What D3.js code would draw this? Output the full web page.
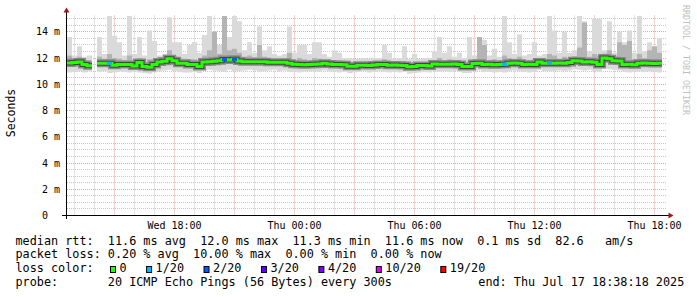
<!DOCTYPE html>
<html><head><meta charset="utf-8">
<script src="https://cdn.jsdelivr.net/npm/d3@7"></script>
<style>
body{margin:0;background:#fff}
svg{display:block}
text{font-family:"DejaVu Sans Mono",monospace}
</style></head><body>
<svg id="c" width="697" height="297"></svg>
<script>
// ---------- data ----------
const startTime = Date.UTC(2025, 6, 16, 12, 38, 18);
const endTime   = Date.UTC(2025, 6, 17, 18, 38, 18);
const stepSeconds = 900;

const median = [
 11.63,11.65,11.7,11.5,11.42,null,11.6,11.6,11.6,11.45,
 11.5,11.5,11.5,11.4,11.65,11.35,11.3,11.5,11.7,11.75,
 11.95,11.8,11.6,11.6,11.5,11.5,11.35,11.7,11.72,11.75,
 11.8,11.88,11.85,11.9,11.78,11.72,11.72,11.72,11.72,11.72,
 11.68,11.68,11.68,11.68,11.6,11.53,11.5,11.48,11.5,11.52,
 11.55,11.6,11.55,11.5,11.5,11.48,11.37,11.38,11.45,11.45,
 11.43,11.47,11.5,11.5,11.45,11.47,11.45,11.43,11.33,11.35,
 11.43,11.43,11.4,11.55,11.52,11.52,11.52,11.55,11.5,11.36,
 11.36,11.58,11.6,11.5,11.52,11.48,11.5,11.53,11.6,11.62,
 11.6,11.5,11.52,11.5,11.7,11.6,11.62,11.6,11.62,11.6,
 11.65,11.8,11.78,11.7,11.72,11.68,11.5,12.0,11.95,11.8,
 11.78,11.5,11.52,11.48,11.6,11.62,11.6,11.58,11.6,null];

const lossCount = [
 0,0,0,0,0,null,0,0,1,0,
 0,0,0,0,0,0,0,0,0,0,
 0,0,0,0,0,0,0,0,0,0,
 0,2,0,2,0,0,0,0,0,0,
 0,0,0,0,0,0,0,0,0,0,
 0,0,0,0,0,0,0,0,0,0,
 0,0,0,0,0,0,0,0,0,0,
 0,0,0,0,0,0,0,0,0,0,
 0,0,0,0,0,0,0,1,0,0,
 0,0,0,0,0,0,1,0,0,0,
 0,0,0,0,0,0,0,0,0,0,
 0,0,0,0,0,0,0,0,0,null];

const pingMax = [
 13.6,12.2,12.9,12.1,12.2,null,13.6,12.3,15.2,13.7,
 13.2,12.2,15.2,12.3,13.6,12.2,14.1,13.3,12.2,12.3,
 15.1,13.2,13.2,12.3,13.0,13.2,12.4,13.75,15.2,14.0,
 13.0,15.2,13.6,15.2,14.8,12.6,13.2,12.4,14.4,12.6,
 12.9,12.3,12.2,12.3,14.4,12.4,13.0,13.0,12.3,13.2,
 13.2,12.3,12.1,12.6,12.4,12.0,12.0,11.95,11.95,12.0,
 11.95,12.0,12.0,13.0,12.4,11.95,12.0,12.9,11.9,12.3,
 11.95,12.0,12.0,12.5,13.6,12.4,12.9,12.1,12.4,12.0,
 13.6,12.2,13.6,13.4,12.2,12.7,12.1,15.2,13.2,12.3,
 13.8,12.2,12.3,13.2,12.2,12.3,15.2,14.1,12.4,14.0,
 12.4,12.6,15.2,14.8,12.5,15.0,15.0,12.6,14.8,12.4,
 14.0,13.2,14.1,12.4,15.2,12.5,13.2,12.3,13.5,null];

const pingHighMid = [
 12.2,11.95,12.1,11.85,11.8,null,12.1,11.95,12.3,12.0,
 11.95,11.85,12.2,11.8,12.0,11.7,11.9,11.9,12.05,12.1,
 12.6,12.2,12.0,11.95,11.9,11.9,11.7,12.2,12.6,14.0,
 12.3,15.2,12.6,12.7,12.4,12.1,12.2,12.05,13.0,12.1,
 12.0,11.95,11.95,12.0,12.4,11.85,12.0,11.9,11.8,12.0,
 11.95,11.85,11.8,11.85,11.85,11.75,11.65,11.65,11.7,11.7,
 11.7,11.75,11.75,11.9,11.75,11.7,11.7,11.75,11.6,11.65,
 11.7,11.7,11.7,11.85,12.0,11.85,11.9,11.8,11.8,11.65,
 11.8,11.9,13.6,13.0,11.85,11.9,11.8,12.2,12.0,11.95,
 12.1,11.8,11.85,11.9,12.0,11.9,12.3,12.2,11.95,12.1,
 11.95,12.15,12.8,14.7,12.1,12.3,12.2,12.35,12.6,12.2,
 13.2,13.0,13.3,11.9,12.3,12.0,12.6,12.9,12.4,null];

const pingLowMid = [
 11.35,11.4,11.45,11.25,11.2,null,11.35,11.35,11.3,11.2,
 11.25,11.25,11.2,11.15,11.35,11.1,11.05,11.25,11.45,11.5,
 11.6,11.5,11.35,11.35,11.25,11.25,11.1,11.45,11.45,11.5,
 11.5,11.55,11.55,11.6,11.5,11.45,11.45,11.45,11.45,11.45,
 11.4,11.45,11.4,11.4,11.35,11.3,11.25,11.25,11.25,11.3,
 11.3,11.35,11.3,11.25,11.25,11.25,11.15,11.15,11.2,11.2,
 11.2,11.25,11.25,11.25,11.2,11.2,11.2,11.2,11.1,11.1,
 11.2,11.2,11.15,11.3,11.25,11.3,11.3,11.3,11.25,11.1,
 11.1,11.35,11.35,11.25,11.25,11.25,11.25,11.3,11.35,11.35,
 11.35,11.25,11.25,11.25,11.45,11.35,11.35,11.35,11.35,11.35,
 11.4,11.55,11.5,11.45,11.45,11.45,11.25,11.7,11.65,11.55,
 11.5,11.25,11.25,11.25,11.35,11.35,11.35,11.3,11.3,null];

const pingMin = [
 10.9,10.95,11.0,10.9,11.0,null,10.95,11.0,10.85,10.9,
 11.0,10.95,10.9,10.95,10.9,10.85,10.8,10.9,11.0,11.05,
 11.1,11.0,10.95,10.9,10.9,10.95,10.85,11.05,11.1,11.05,
 11.0,10.95,11.1,11.0,11.0,11.05,11.1,11.05,10.95,11.0,
 11.05,11.1,11.0,11.05,10.95,10.95,10.9,10.95,11.0,11.0,
 10.95,11.05,11.0,10.95,10.9,10.95,10.85,10.9,10.95,11.0,
 10.9,10.95,11.0,10.95,10.9,10.95,10.9,10.95,10.8,10.85,
 10.9,10.95,10.9,11.0,10.95,11.0,10.95,11.0,10.95,10.85,
 10.85,11.0,11.05,10.95,10.95,10.9,10.95,10.9,11.0,11.05,
 11.0,10.95,10.9,10.95,11.1,11.0,11.0,11.0,11.05,11.0,
 11.05,11.15,11.1,11.05,11.1,11.0,10.95,11.2,11.15,11.1,
 11.05,10.95,10.9,10.95,11.0,10.95,11.0,10.95,10.9,null];

const yMax = 15.24;
const yTicksMajor = [0, 2, 4, 6, 8, 10, 12, 14];
const yTickLabels = ["0  ", "2 m", "4 m", "6 m", "8 m", "10 m", "12 m", "14 m"];
const yLabel = "Seconds";
const lossLevels = ["0", "1/20", "2/20", "3/20", "4/20", "10/20", "19/20"];
const lossCounts = [0, 1, 2, 3, 4, 10, 19];
const lossColors = ["#26ff00", "#00b8ff", "#0059ff", "#5e00ff", "#7e00ff", "#dd00ff", "#ff0000"];
const legendRtt = "median rtt:  11.6 ms avg  12.0 ms max  11.3 ms min  11.6 ms now  0.1 ms sd  82.6   am/s";
const legendLoss = "packet loss: 0.20 % avg  10.00 % max  0.00 % min  0.00 % now";
const legendLossColor = "loss color:";
const legendProbe = "probe:       20 ICMP Echo Pings (56 Bytes) every 300s";
const legendEnd = "end: Thu Jul 17 18:38:18 2025";
const watermark = "RRDTOOL / TOBI OETIKER";

// ---------- layout ----------
const svg = d3.select("#c");
const L = 67, R = 667, T = 15.5, B = 215.5;
const x = d3.scaleUtc().domain([new Date(startTime), new Date(endTime)]).range([L, R]);
const y = d3.scaleLinear().domain([0, yMax]).range([B, T]);
const crisp = v => Math.round(v - 0.5) + 0.5;

// grid
const grid = svg.append("g");
const minorY = d3.range(0, yMax, 0.5).filter(v => v % 2 !== 0);
grid.selectAll(".ymin").data(minorY).join("line")
  .attr("x1", L).attr("x2", R).attr("y1", d => crisp(y(d))).attr("y2", d => crisp(y(d)))
  .attr("stroke", "#c8c8c8").attr("stroke-dasharray", "1,1");
const hours = d3.utcHour.every(1).range(x.domain()[0], x.domain()[1]);
grid.selectAll(".xmin").data(hours.filter(h => h.getUTCHours() % 3 !== 0)).join("line")
  .attr("x1", d => crisp(x(d))).attr("x2", d => crisp(x(d))).attr("y1", T).attr("y2", B)
  .attr("stroke", "#c8c8c8").attr("stroke-dasharray", "1,1");
grid.selectAll(".ymaj").data(yTicksMajor.slice(1)).join("line")
  .attr("x1", L).attr("x2", R).attr("y1", d => crisp(y(d))).attr("y2", d => crisp(y(d)))
  .attr("stroke", "#e6a3a3").attr("stroke-dasharray", "1,1");
grid.selectAll(".xmaj").data(hours.filter(h => h.getUTCHours() % 3 === 0)).join("line")
  .attr("x1", d => crisp(x(d))).attr("x2", d => crisp(x(d))).attr("y1", T).attr("y2", B)
  .attr("stroke", "#e6a3a3").attr("stroke-dasharray", "1,1");

// step data: two points per column
function stepped(fn) {
  const pts = [];
  median.forEach((m, i) => {
    const t0 = new Date(startTime + i * stepSeconds * 1000);
    const t1 = new Date(startTime + (i + 1) * stepSeconds * 1000);
    const v = fn(i);
    pts.push({ t: t0, v, i }, { t: t1, v, i });
  });
  return pts;
}
const plot = svg.append("g");
const area = d3.area()
  .defined(d => d.v && d.v[0] != null && d.v[1] != null)
  .x(d => x(d.t)).y0(d => y(d.v[0])).y1(d => y(Math.min(d.v[1], yMax)));
plot.append("path").attr("d", area(stepped(i => [pingMin[i], pingMax[i]]))).attr("fill", "#dadada");
plot.append("path").attr("d", area(stepped(i => [pingLowMid[i], pingHighMid[i]]))).attr("fill", "#b4b4b4");

const line = d3.line().defined(d => d.v != null).x(d => x(d.t)).y(d => y(d.v));
const medPts = stepped(i => median[i]);
plot.append("path").attr("d", line(medPts)).attr("fill", "none")
  .attr("stroke", "#8a8a8a").attr("stroke-width", 8);
plot.append("path").attr("d", line(medPts)).attr("fill", "none")
  .attr("stroke", "#444").attr("stroke-width", 5);
plot.append("path").attr("d", line(medPts)).attr("fill", "none")
  .attr("stroke", lossColors[0]).attr("stroke-width", 3);
// loss-coloured segments
lossCount.forEach((c, i) => {
  if (!c) return;
  const k = lossCounts.indexOf(c);
  const seg = medPts.filter(p => p.i === i);
  plot.append("path").attr("d", line(seg)).attr("fill", "none")
    .attr("stroke", lossColors[k]).attr("stroke-width", 3);
});

// axes
const ax = svg.append("g");
ax.append("line").attr("x1", L - 0.5).attr("x2", L - 0.5).attr("y1", 12).attr("y2", 219).attr("stroke", "#000");
ax.append("line").attr("x1", 62).attr("x2", 669).attr("y1", B).attr("y2", B).attr("stroke", "#000");
ax.append("path").attr("d", "M63.5,12.5L69.5,12.5L66.5,7.5Z").attr("fill", "#9b1b1b");
ax.append("path").attr("d", "M668.5,212.5L668.5,218.5L673.5,215.5Z").attr("fill", "#9b1b1b");

// y tick labels
ax.selectAll(".yl").data(yTicksMajor).join("text")
  .attr("x", 60).attr("y", d => crisp(y(d))).attr("dy", "0.36em")
  .attr("text-anchor", "end").attr("font-size", "10px").attr("fill", "#000")
  .style("white-space", "pre").attr("xml:space", "preserve")
  .text((d, i) => yTickLabels[i]);

// x tick labels every 6h
const fmt = d3.utcFormat("%a %H:%M");
ax.selectAll(".xl").data(hours.filter(h => h.getUTCHours() % 6 === 0)).join("text")
  .attr("x", d => crisp(x(d))).attr("y", 228.5).attr("text-anchor", "middle")
  .attr("font-size", "10px").attr("fill", "#000").text(d => fmt(d));

// y axis title
svg.append("text").attr("transform", "translate(15,113) rotate(-90)")
  .attr("text-anchor", "middle").attr("font-size", "11.5px").attr("fill", "#000").text(yLabel);

// watermark
svg.append("text").attr("transform", "translate(683,5) rotate(90)")
  .attr("font-size", "8.3px").attr("fill", "#c0c0c0").text(watermark);

// legend
const leg = svg.append("g").attr("font-size", "11.8px").attr("fill", "#000");
const lx = 15.5;
[[legendRtt, 244.5], [legendLoss, 258.3], [legendLossColor, 272], [legendProbe, 285.8]].forEach(([s, yy]) => {
  leg.append("text").attr("x", lx).attr("y", yy).attr("xml:space", "preserve")
    .style("white-space", "pre").text(s);
});
leg.append("text").attr("x", 478.3).attr("y", 285.8).style("white-space", "pre").text(legendEnd);
let bx = 110;
lossLevels.forEach((lab, k) => {
  leg.append("rect").attr("x", bx + 0.5).attr("y", 266.5).attr("width", 5).attr("height", 6)
    .attr("fill", lossColors[k]).attr("stroke", "#000").attr("stroke-width", 1);
  const t = leg.append("text").attr("x", bx + 9.5).attr("y", 272).text(lab);
  bx = bx + 9.5 + t.node().getComputedTextLength() + 19.5;
});
</script>
</body></html>
